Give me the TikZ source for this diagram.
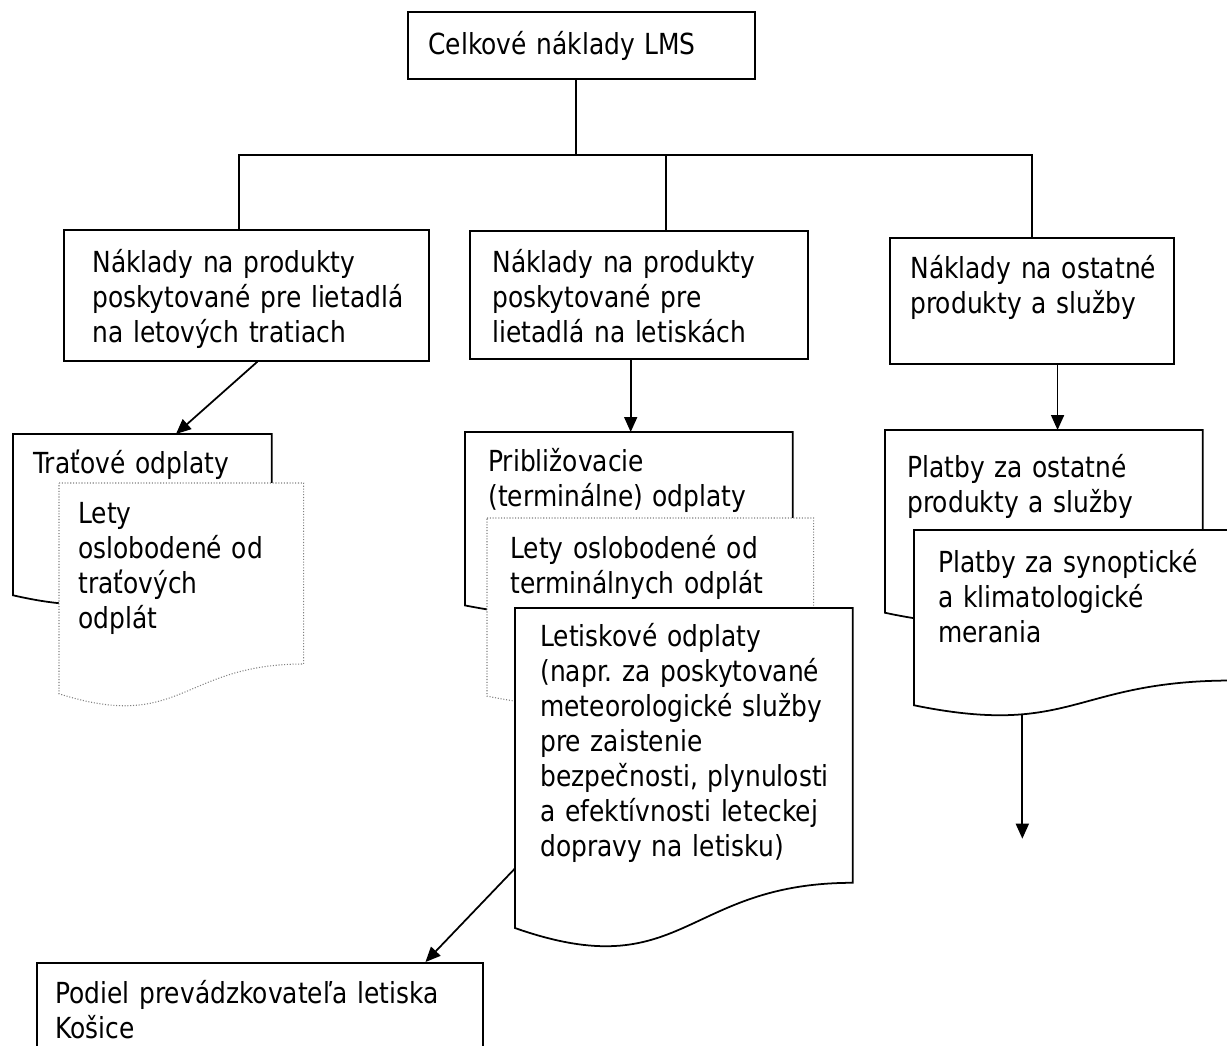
\documentclass[tikz,border=0pt]{standalone}
\usepackage{fontspec}
\setmainfont{DejaVu Sans}[FakeStretch=0.86]
\frenchspacing
\usetikzlibrary{arrows.meta,calc,positioning}

\tikzset{
  box/.style={draw, line width=1pt, fill=white, inner sep=0pt, anchor=north west},
  docnode/.style={inner sep=0pt, anchor=north west},
  txt/.style={anchor=base west, inner sep=0pt, text width=9cm, align=left,
    font=\fontsize{16.5}{20}\selectfont},
  doc/.style={draw, line width=1pt, fill=white},
  dotdoc/.style={draw=gray, densely dotted, line width=0.6pt, fill=white},
  conn/.style={line width=1pt},
  arr/.style={line width=1pt, -{Triangle[length=0.3cm,width=0.26cm]}}
}
% document shape (wavy bottom) round a named node
\newcommand\docpath[1]{(#1.north west) -- (#1.north east)
  -- ($(#1.north east)!0.802!(#1.south east)$)
  .. controls ($(#1.north)!0.802!(#1.south)$) and ($(#1.north)!1.107!(#1.south)$)
  .. ($(#1.north west)!0.934!(#1.south west)$) -- cycle}

\begin{document}
\begin{tikzpicture}[x=0.02cm, y=-0.02cm]
\useasboundingbox (0,0) rectangle (1227,1045);
\clip (0,0) rectangle (1227,1045);

% top
\node[box, minimum width=6.94cm, minimum height=1.34cm] (celk) at (407,11) {};
\node[txt] (celk-t) at (428,54) {Celkové náklady LMS};

% second row
\node[box, minimum width=7.3cm, minimum height=2.62cm] (nakla) at (63,229) {};
\node[txt] (nakla-t) at (92,272) {Náklady na produkty\\poskytované pre lietadlá\\na letových tratiach};
\node[box, minimum width=6.76cm, minimum height=2.56cm] (naklb) at (469,230) {};
\node[txt] (naklb-t) at (492,272) {Náklady na produkty\\poskytované pre\\lietadlá na letiskách};
\node[box, minimum width=5.68cm, minimum height=2.52cm] (naklc) at (889,237) {};
\node[txt] (naklc-t) at (910,278) {Náklady na ostatné\\produkty a služby};

\coordinate (celk-out) at ($(celk.south west)!0.485!(celk.south east)$);
\coordinate (bus) at ($(celk-out)+(0,75)$);
\coordinate (naklb-in) at ($(naklb.north west)!0.58!(naklb.north east)$);
\draw[conn] (celk-out) -- (bus);
\draw[conn] ($(nakla.north west)!0.48!(nakla.north east)$) |- (bus) -| (naklc.north);
\draw[conn] (naklb-in |- bus) -- (naklb-in);

% left column
\node[docnode, minimum width=5.16cm, minimum height=3.44cm] (trat) at (13,434) {};
\draw[doc] \docpath{trat};
\node[txt] (trat-t) at (33,473) {Traťové odplaty};
\node[docnode, minimum width=4.88cm, minimum height=4.5cm] (letyt) at (59,483) {};
\draw[dotdoc] \docpath{letyt};
\node[txt] (letyt-t) at (78,523) {Lety\\oslobodené od\\traťových\\odplát};
\draw[arr] ($(nakla.south west)!0.53!(nakla.south east)$) -- ($(trat.north west)!0.63!(trat.north east)$);

% middle column
\node[docnode, minimum width=6.54cm, minimum height=3.7cm] (pribl) at (465,432) {};
\draw[doc] \docpath{pribl};
\node[txt] (pribl-t) at (488,471) {Približovacie\\(terminálne) odplaty};
\node[docnode, minimum width=6.52cm, minimum height=3.8cm] (letyterm) at (487,518) {};
\draw[dotdoc] \docpath{letyterm};
\node[txt] (letyterm-t) at (510,558) {Lety oslobodené od\\terminálnych odplát};
\node[docnode, minimum width=6.74cm, minimum height=6.84cm] (letisk) at (515,608) {};
\draw[doc] \docpath{letisk};
\node[txt] (letisk-t) at (540,646) {Letiskové odplaty\\(napr. za poskytované\\meteorologické služby\\pre zaistenie\\bezpečnosti, plynulosti\\a efektívnosti leteckej\\dopravy na letisku)};
\coordinate (naklb-out) at ($(naklb.south west)!0.476!(naklb.south east)$);
\draw[arr] (naklb-out) -- (naklb-out |- pribl.north);

% right column
\node[docnode, minimum width=6.34cm, minimum height=3.9cm] (platby) at (885,430) {};
\draw[doc] \docpath{platby};
\node[txt] (platby-t) at (907,477) {Platby za ostatné\\produkty a služby};
\node[docnode, minimum width=6.36cm, minimum height=3.74cm] (synopt) at (914,530) {};
\draw[doc] \docpath{synopt};
\node[txt] (synopt-t) at (938,572) {Platby za synoptické\\a klimatologické\\merania};
\coordinate (naklc-out) at ($(naklc.south west)!0.59!(naklc.south east)$);
\draw[arr] (naklc-out) -- (naklc-out |- platby.north);
\coordinate (synopt-out) at ($(synopt.south west)!0.34!(synopt.south east)+(0,-3)$);
\coordinate (synopt-end) at ($(synopt-out)+(0,124)$);
\draw[arr] (synopt-out) -- (synopt-end);

% bottom
\node[box, minimum width=8.92cm, minimum height=2.4cm] (podiel) at (36,962) {};
\node[txt] (podiel-t) at (55,1003) {Podiel prevádzkovateľa letiska\\Košice};
\draw[arr] ($(letisk.north west)!0.76!(letisk.south west)$) -- ($(podiel.north west)!0.87!(podiel.north east)$);
\end{tikzpicture}
\end{document}
